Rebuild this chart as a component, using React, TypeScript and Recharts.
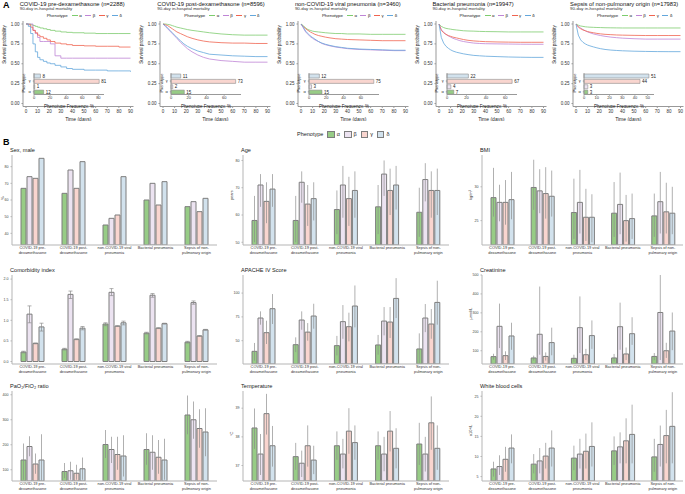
import React from "react";
import { LineChart, Line, XAxis, YAxis, BarChart, Bar, ErrorBar, LabelList, Cell } from "recharts";

const FONT = "'Liberation Sans', Arial, sans-serif";

// ---- panel A: cohorts, survival curves, phenotype frequencies ----
const COHORTS = [
  "COVID-19 pre-dexamethasone",
  "COVID-19 post-dexamethasone",
  "non-COVID-19 viral pneumonia",
  "Bacterial pneumonia",
  "Sepsis of non-pulmonary origin",
];
const COHORT_N = [2288, 8596, 3460, 19947, 17983];
const PHENO = ["α", "β", "γ", "δ"];
const DAYS = [0, 2, 4, 6, 8, 10, 12, 15, 18, 21, 25, 30, 35, 40, 50, 60, 70, 80, 90];

const PRE_A = [1, 1, 0.99, 0.98, 0.97, 0.96, 0.95, 0.94, 0.93, 0.92, 0.91, 0.9, 0.895, 0.89, 0.885, 0.88, 0.88, 0.88, 0.88];
const PRE_B = [1, 1, 1, 0.92, 0.88, 0.83, 0.78, 0.78, 0.78, 0.75, 0.6, 0.57, 0.57, 0.57, 0.57, 0.57, 0.57, 0.57, 0.57];
const PRE_G = [1, 0.99, 0.96, 0.92, 0.89, 0.86, 0.84, 0.82, 0.8, 0.78, 0.76, 0.75, 0.74, 0.73, 0.725, 0.72, 0.72, 0.71, 0.71];
const PRE_D = [1, 0.97, 0.88, 0.75, 0.65, 0.58, 0.55, 0.53, 0.51, 0.5, 0.48, 0.46, 0.44, 0.43, 0.42, 0.42, 0.41, 0.41, 0.4];

const POST_A = [1, 1, 0.995, 0.99, 0.98, 0.97, 0.96, 0.95, 0.94, 0.93, 0.92, 0.91, 0.9, 0.89, 0.875, 0.865, 0.86, 0.86, 0.86];
const POST_B = [1, 0.97, 0.94, 0.91, 0.88, 0.85, 0.82, 0.77, 0.73, 0.69, 0.65, 0.61, 0.58, 0.56, 0.54, 0.53, 0.52, 0.52, 0.52];
const POST_G = [1, 0.99, 0.98, 0.96, 0.94, 0.92, 0.9, 0.88, 0.86, 0.84, 0.82, 0.8, 0.785, 0.775, 0.765, 0.76, 0.76, 0.755, 0.755];
const POST_D = [1, 0.98, 0.95, 0.92, 0.89, 0.86, 0.83, 0.79, 0.75, 0.72, 0.69, 0.66, 0.64, 0.62, 0.61, 0.6, 0.595, 0.59, 0.59];

const VIR_A = [1, 0.98, 0.95, 0.93, 0.92, 0.91, 0.905, 0.9, 0.895, 0.89, 0.885, 0.88, 0.88, 0.875, 0.875, 0.87, 0.87, 0.87, 0.87];
const VIR_B = [1, 0.95, 0.9, 0.87, 0.84, 0.82, 0.8, 0.78, 0.755, 0.74, 0.725, 0.71, 0.7, 0.69, 0.68, 0.675, 0.67, 0.665, 0.665];
const VIR_G = [1, 0.97, 0.94, 0.92, 0.9, 0.885, 0.87, 0.855, 0.845, 0.835, 0.825, 0.815, 0.81, 0.805, 0.8, 0.795, 0.79, 0.79, 0.79];
const VIR_D = [1, 0.96, 0.91, 0.88, 0.85, 0.83, 0.81, 0.78, 0.76, 0.745, 0.73, 0.715, 0.705, 0.695, 0.685, 0.68, 0.675, 0.67, 0.67];

const BAC_A = [1, 0.97, 0.955, 0.945, 0.94, 0.935, 0.93, 0.925, 0.92, 0.915, 0.912, 0.91, 0.907, 0.905, 0.903, 0.9, 0.9, 0.9, 0.9];
const BAC_B = [1, 0.93, 0.895, 0.87, 0.85, 0.835, 0.82, 0.805, 0.79, 0.78, 0.77, 0.76, 0.755, 0.752, 0.75, 0.748, 0.746, 0.745, 0.745];
const BAC_G = [1, 0.92, 0.89, 0.87, 0.855, 0.845, 0.835, 0.825, 0.815, 0.805, 0.795, 0.787, 0.782, 0.778, 0.774, 0.772, 0.77, 0.77, 0.77];
const BAC_D = [1, 0.83, 0.76, 0.72, 0.695, 0.675, 0.66, 0.645, 0.635, 0.625, 0.615, 0.605, 0.6, 0.595, 0.59, 0.585, 0.582, 0.58, 0.58];

const SEP_A = [1, 0.985, 0.975, 0.97, 0.965, 0.962, 0.96, 0.958, 0.956, 0.955, 0.953, 0.952, 0.951, 0.95, 0.95, 0.95, 0.95, 0.95, 0.95];
const SEP_B = [1, 0.97, 0.95, 0.93, 0.915, 0.9, 0.89, 0.875, 0.865, 0.855, 0.845, 0.835, 0.828, 0.822, 0.815, 0.81, 0.81, 0.81, 0.81];
const SEP_G = [1, 0.96, 0.94, 0.925, 0.915, 0.905, 0.898, 0.89, 0.882, 0.876, 0.87, 0.866, 0.862, 0.86, 0.857, 0.855, 0.855, 0.855, 0.855];
const SEP_D = [1, 0.86, 0.8, 0.77, 0.75, 0.735, 0.725, 0.712, 0.7, 0.69, 0.68, 0.672, 0.667, 0.663, 0.658, 0.655, 0.653, 0.652, 0.652];

const KM_SERIES = [
  [PRE_A, PRE_B, PRE_G, PRE_D],
  [POST_A, POST_B, POST_G, POST_D],
  [VIR_A, VIR_B, VIR_G, VIR_D],
  [BAC_A, BAC_B, BAC_G, BAC_D],
  [SEP_A, SEP_B, SEP_G, SEP_D],
];

// phenotype frequency, % (α, β, γ, δ)
const FREQ_PRE = [12, 1, 81, 8];
const FREQ_POST = [15, 2, 73, 11];
const FREQ_VIR = [15, 3, 75, 12];
const FREQ_BAC = [7, 4, 67, 22];
const FREQ_SEP = [3, 3, 44, 51];
const FREQS = [FREQ_PRE, FREQ_POST, FREQ_VIR, FREQ_BAC, FREQ_SEP];
const FREQ_MAX = [87, 79, 81, 72, 55];
const FREQ_TICKS = [[0, 20, 40, 60, 80], [0, 20, 40, 60], [0, 20, 40, 60], [0, 20, 40, 60], [0, 10, 20, 30, 40, 50]];

const KM_X_TICKS = [0, 10, 20, 30, 40, 50, 60, 70, 80, 90];
const KM_Y_TICKS = [0, 0.25, 0.5, 0.75, 1];

// ---- panel B: characteristics by cohort ----
const CATEGORIES = [
  "COVID-19 pre-\ndexamethasone",
  "COVID-19 post-\ndexamethasone",
  "non-COVID-19 viral\npneumonia",
  "Bacterial pneumonia",
  "Sepsis of non-\npulmonary origin",
];

const SEX_A = [67, 64, 45, 60, 56];
const SEX_B = [74, 78, 49, 70, 59];
const SEX_G = [73, 67, 51, 57, 53];
const SEX_D = [85, 83, 74, 71, 61];

const AGE_A = [58, 58, 62, 63, 61];
const AGE_B = [71, 72, 71, 75, 73];
const AGE_G = [65, 64, 66, 69, 69];
const AGE_D = [69.5, 66, 69, 71, 69];
const AGE_A_LO = [50, 50, 53, 53, 52], AGE_A_HI = [67, 67, 69, 71, 70];
const AGE_B_LO = [63, 64.5, 59, 67, 65], AGE_B_HI = [75, 76, 78, 80, 79];
const AGE_G_LO = [57, 56, 56, 60, 59], AGE_G_HI = [72, 71, 74, 77, 76];
const AGE_D_LO = [63, 58, 59, 62, 60], AGE_D_HI = [75, 72, 76, 78, 77];

const BMI_A = [28.4, 29.9, 26.2, 26.1, 25.7];
const BMI_B = [27.7, 29.4, 27.7, 27.4, 27.8];
const BMI_G = [27.7, 29, 25.5, 25, 26.3];
const BMI_D = [28.1, 28.6, 25.5, 25.3, 26.1];
const BMI_A_LO = [25.6, 26.6, 22.3, 22.6, 22.6], BMI_A_HI = [32.8, 34, 31.2, 30.7, 29];
const BMI_B_LO = [24.9, 26.1, 23.1, 23, 23.1], BMI_B_HI = [30.3, 32.6, 32.5, 32.1, 32.2];
const BMI_G_LO = [24.4, 25.3, 22, 21.9, 23.1], BMI_G_HI = [31, 32.9, 29.7, 28.8, 30.6];
const BMI_D_LO = [25.2, 25.6, 21.8, 22.3, 23], BMI_D_HI = [32.2, 32.4, 28.9, 29, 30];

const CMI_A = [0.23, 0.3, 0.91, 0.69, 0.47];
const CMI_B = [1.15, 1.63, 1.68, 1.61, 1.43];
const CMI_G = [0.44, 0.54, 0.86, 0.81, 0.62];
const CMI_D = [0.84, 0.81, 0.94, 0.92, 0.77];
const CMI_A_LO = [0.21, 0.28, 0.87, 0.67, 0.45], CMI_A_HI = [0.25, 0.32, 0.94, 0.71, 0.49];
const CMI_B_LO = [0.94, 1.53, 1.6, 1.56, 1.39], CMI_B_HI = [1.35, 1.71, 1.77, 1.65, 1.47];
const CMI_G_LO = [0.43, 0.53, 0.85, 0.8, 0.61], CMI_G_HI = [0.45, 0.55, 0.87, 0.82, 0.63];
const CMI_D_LO = [0.74, 0.77, 0.89, 0.91, 0.76], CMI_D_HI = [0.93, 0.85, 0.98, 0.93, 0.78];

const APA_A = [38.8, 45.8, 44.8, 45.5, 41.3];
const APA_B = [73.8, 71.7, 70, 70.6, 73.8];
const APA_G = [58.4, 59, 64.7, 69.6, 67.5];
const APA_D = [83.6, 75.9, 86.4, 94.4, 90.2];
const APA_A_LO = [29, 38, 34.6, 35.3, 26.6], APA_A_HI = [47.6, 53.5, 55, 56, 57.7];
const APA_B_LO = [66.8, 61.5, 52, 55.6, 59], APA_B_HI = [80.8, 80.8, 87.4, 85.3, 88.5];
const APA_G_LO = [46.5, 50, 49.3, 52.8, 52], APA_G_HI = [71, 68.5, 79.4, 85.3, 83.2];
const APA_D_LO = [67.5, 62.6, 64, 73.8, 66.8], APA_D_HI = [99, 88.8, 108, 115.7, 113];

const CRE_A = [69, 62, 60, 62, 70];
const CRE_B = [229, 187, 222, 227, 302];
const CRE_G = [74, 70, 79, 83, 100];
const CRE_D = [178, 143, 180, 190, 204];
const CRE_A_LO = [53, 48, 41, 43, 50], CRE_A_HI = [84, 74, 79, 83, 88];
const CRE_B_LO = [114, 79, 88, 105, 51], CRE_B_HI = [349, 439, 387, 354, 500];
const CRE_G_LO = [51, 48, 51, 51, 62], CRE_G_HI = [97, 91, 110, 117, 142];
const CRE_D_LO = [105, 76, 110, 131, 103], CRE_D_HI = [248, 222, 260, 277, 302];

const PF_A = [139, 93, 201, 181, 319];
const PF_B = [193, 96, 181, 170, 300];
const PF_G = [123, 86, 161, 150, 265];
const PF_D = [139, 104, 155, 139, 251];
const PF_A_LO = [60, 66, 147, 120, 242], PF_A_HI = [205, 127, 259, 246, 397];
const PF_B_LO = [154, 60, 127, 100, 224], PF_B_HI = [234, 132, 232, 238, 373];
const PF_G_LO = [84, 60, 100, 84, 188], PF_G_HI = [165, 120, 232, 219, 342];
const PF_D_LO = [56, 60, 73, 60, 154], PF_D_HI = [242, 149, 238, 224, 346];

const TMP_A = [38.31, 37.31, 37.69, 37.69, 37.75];
const TMP_B = [37.4, 37.08, 37.4, 37.4, 37.4];
const TMP_G = [38.81, 37.69, 38.2, 38.2, 38.49];
const TMP_D = [37.69, 37.19, 37.8, 37.6, 37.6];
const TMP_A_LO = [37.58, 36.85, 37.2, 37.2, 37.02], TMP_A_HI = [38.99, 37.79, 38.19, 38.19, 38.49];
const TMP_B_LO = [36.67, 36.6, 36.9, 36.8, 36.79], TMP_B_HI = [38.1, 37.52, 37.93, 38, 38];
const TMP_G_LO = [38.08, 36.96, 37.41, 37.49, 37.55], TMP_G_HI = [39.5, 38.4, 39, 38.9, 39.41];
const TMP_D_LO = [36.96, 36.7, 37.2, 36.9, 36.85], TMP_D_HI = [38.38, 37.69, 38.4, 38.3, 38.4];

const WBC_A = [6.9, 8.1, 9.6, 11.4, 9.9];
const WBC_B = [7.5, 8.9, 10.6, 12.4, 13];
const WBC_G = [9.3, 10.1, 11.3, 13.9, 15.2];
const WBC_D = [12.1, 12.1, 12.5, 15.5, 17.5];
const WBC_A_LO = [5, 5.8, 6.6, 7.9, 6.2], WBC_A_HI = [8.7, 10.6, 12.7, 15, 14.4];
const WBC_B_LO = [5.4, 5.8, 7, 8.3, 7.5], WBC_B_HI = [10.3, 12.1, 14.4, 16, 17.7];
const WBC_G_LO = [6.2, 7, 7, 8.3, 8.3], WBC_G_HI = [12.4, 13.4, 15.7, 19.5, 21.6];
const WBC_D_LO = [8.3, 7.5, 7.5, 8.3, 8.3], WBC_D_HI = [15.5, 16.5, 18.5, 22.9, 26];

// ---- styling ----
const LINE_COLORS = ["#7dcc6e", "#bf85d6", "#f06450", "#63a7dc"];
const FILLS = ["#97cc86", "#ece3f1", "#f9d5cf", "#d2e2ed"];
const KEYS = ["a", "b", "g", "d"];
const AXIS_X = [12, 243, 482];
const AXIS_W = [12, 14, 14];
const PLOT_R = [217, 449, 683];
const PLOT_TOP = [155, 275, 391];
const PLOT_BOT = [245, 364, 481];
const KM_X0 = 25.7;
const KM_STEP = 137.6;

function buildRows(vals: number[][], lo?: number[][], hi?: number[][]) {
  return CATEGORIES.map((cat, k) => {
    const r: any = { cat };
    KEYS.forEach((key, p) => {
      r[key] = vals[p][k];
      if (lo && hi) r[key + "E"] = [vals[p][k] - lo[p][k], hi[p][k] - vals[p][k]];
    });
    return r;
  });
}

function CatTick(props: any) {
  const { x, y, payload } = props;
  const lines = String(payload.value).split("\n");
  return (
    <text x={x} y={y + 4.2} textAnchor="middle" fontSize={3.9} fill="#333" fontFamily={FONT}>
      {lines.map((l, i) => (
        <tspan key={i} x={x} dy={i === 0 ? 0 : 4.6}>
          {l}
        </tspan>
      ))}
    </text>
  );
}

function BarPanel(props: any) {
  const { col, row, title, unit, domain, ticks, fmt, vals, lo, hi, cap = 0 } = props;
  const axisX = AXIS_X[col];
  const top = PLOT_TOP[row];
  const bottom = PLOT_BOT[row];
  const yW = AXIS_W[col];
  const xH = 13;
  const mt = 2;
  const data = buildRows(vals, lo, hi);
  return (
    <>
      <div style={{ position: "absolute", left: axisX - 2, top: top - 8.5, fontSize: 5.6, color: "#222", whiteSpace: "nowrap" }}>
        {title}
      </div>
      <div style={{ position: "absolute", left: axisX - yW, top: top - mt }}>
        <BarChart
          width={PLOT_R[col] - axisX + yW}
          height={mt + bottom - top + xH}
          data={data}
          margin={{ top: mt, right: 0, bottom: 0, left: 0 }}
          barSize={5}
          barGap={1}
        >
          <XAxis dataKey="cat" height={xH} interval={0} tickLine={false} tickSize={0} tickMargin={0}
            axisLine={{ stroke: "#b5b5b5" }} tick={<CatTick />} />
          <YAxis
            width={yW}
            type="number"
            domain={domain}
            ticks={ticks}
            allowDataOverflow
            tickFormatter={fmt}
            tick={{ fontSize: 3.6, fill: "#444" }}
            tickSize={1.5}
            stroke="#b5b5b5"
            label={unit ? { value: unit, angle: -90, position: "insideLeft", offset: 3, fontSize: 4, fill: "#333" } : undefined}
          />
          {KEYS.map((k, p) => (
            <Bar key={k} dataKey={k} fill={FILLS[p]} stroke="#7d7d7d" strokeWidth={1} isAnimationActive={false}>
              {lo ? <ErrorBar dataKey={k + "E"} width={cap} stroke="#8a8a8a" strokeOpacity={0.85} strokeWidth={0.8} /> : null}
            </Bar>
          ))}
        </BarChart>
      </div>
    </>
  );
}

function KmLegend({ left }: { left: number }) {
  return (
    <div style={{ position: "absolute", left, top: 12.6, fontSize: 4.4, color: "#222", display: "flex", alignItems: "center", whiteSpace: "nowrap" }}>
      <span style={{ marginRight: 4 }}>Phenotype</span>
      {PHENO.map((p, i) => (
        <span key={p} style={{ display: "flex", alignItems: "center", marginRight: 3.5 }}>
          <span style={{ display: "inline-block", width: 6, height: 0, borderTop: `0.8px solid ${LINE_COLORS[i]}`, marginRight: 1.5 }} />
          {p}
        </span>
      ))}
    </div>
  );
}

function KmPanel({ idx }: { idx: number }) {
  const x0 = KM_X0 + KM_STEP * idx;
  const s = KM_SERIES[idx];
  const rows = DAYS.map((day, k) => ({ day, a: s[0][k], b: s[1][k], g: s[2][k], d: s[3][k] }));
  const freq = FREQS[idx];
  const inRows = [3, 2, 1, 0].map((p) => ({ ph: PHENO[p], v: freq[p], fill: FILLS[p] }));
  return (
    <>
      <div style={{ position: "absolute", left: x0 - 6, top: 0.8, fontSize: 5.8, color: "#111", whiteSpace: "nowrap" }}>
        {COHORTS[idx]} (n={COHORT_N[idx]})
      </div>
      <div style={{ position: "absolute", left: x0 - 6, top: 6.3, fontSize: 4.4, color: "#333", whiteSpace: "nowrap" }}>
        90-day in-hospital mortality
      </div>
      <KmLegend left={x0 + 21} />
      <div style={{ position: "absolute", left: x0 - 25, top: 20 }}>
        <LineChart width={134.5} height={100.5} data={rows} margin={{ top: 1, right: 2, bottom: 0, left: 0 }}>
          <XAxis
            dataKey="day"
            type="number"
            domain={[0, 90]}
            ticks={KM_X_TICKS}
            padding={{ left: 3, right: 3 }}
            height={14}
            tick={{ fontSize: 4.5, fill: "#333" }}
            tickSize={1.5}
            stroke="#999"
            label={{ value: "Time (days)", position: "insideBottom", offset: 0, fontSize: 5, fill: "#222" }}
          />
          <YAxis
            type="number"
            domain={[0, 1]}
            ticks={KM_Y_TICKS}
            padding={{ top: 3, bottom: 3 }}
            width={22}
            tickFormatter={(v: number) => v.toFixed(2)}
            tick={{ fontSize: 4.5, fill: "#333" }}
            tickSize={1.5}
            stroke="#999"
            label={{ value: "Survival probability", angle: -90, position: "insideLeft", offset: 3, fontSize: 4.6, fill: "#222" }}
          />
          {KEYS.map((k, p) => (
            <Line
              key={k}
              dataKey={k}
              type={idx === 0 ? "stepAfter" : "linear"}
              stroke={LINE_COLORS[p]}
              strokeWidth={0.8}
              dot={false}
              isAnimationActive={false}
            />
          ))}
        </LineChart>
      </div>
      <div style={{ position: "absolute", left: x0 + 8 - 13, top: 71.5 }}>
        <BarChart layout="vertical" width={95} height={36} data={inRows} margin={{ top: 1, right: 12, bottom: 0, left: 0 }} barSize={4}>
          <XAxis
            type="number"
            domain={[0, FREQ_MAX[idx]]}
            ticks={FREQ_TICKS[idx]}
            height={13.5}
            tick={{ fontSize: 4, fill: "#333" }}
            tickSize={1.2}
            tickMargin={0.5}
            stroke="#999"
            label={{ value: "Phenotype Frequency, %", position: "insideBottom", offset: 0.5, fontSize: 4.5, fill: "#222" }}
          />
          <YAxis type="category" dataKey="ph" width={13} tick={{ fontSize: 4, fill: "#333" }} tickSize={1.2} stroke="#999" />
          <Bar dataKey="v" stroke="#8d8d8d" strokeWidth={0.6} isAnimationActive={false}>
            {inRows.map((r) => (
              <Cell key={r.ph} fill={r.fill} />
            ))}
            <LabelList dataKey="v" position="right" offset={2} fontSize={4.5} fill="#222" />
          </Bar>
        </BarChart>
      </div>
      <div
        style={{
          position: "absolute", left: x0 - 4, top: 72.5, width: 4, height: 21.5,
          display: "flex", alignItems: "center", justifyContent: "center", overflow: "visible",
        }}
      >
        <span style={{ transform: "rotate(-90deg)", fontSize: 4, color: "#222", whiteSpace: "nowrap", lineHeight: 1 }}>Phenotype</span>
      </div>
    </>
  );
}

function BottomLegend() {
  return (
    <div style={{ position: "absolute", left: 297, top: 131, fontSize: 5.5, color: "#222", display: "flex", alignItems: "center", whiteSpace: "nowrap" }}>
      <span style={{ marginRight: 4 }}>Phenotype</span>
      {PHENO.map((p, i) => (
        <span key={p} style={{ display: "flex", alignItems: "center", marginRight: 4 }}>
          <span style={{ display: "inline-block", width: 5.5, height: 4.5, background: FILLS[i], border: "0.8px solid #7d7d7d", marginRight: 2 }} />
          {p}
        </span>
      ))}
    </div>
  );
}

const int = (v: number) => String(v);
const one = (v: number) => v.toFixed(1);

export default function App() {
  return (
    <div style={{ position: "absolute", left: 0, top: 0, width: 685, height: 494, background: "#fff", fontFamily: FONT, overflow: "hidden" }}>
      <div style={{ position: "absolute", left: 3, top: 0, fontSize: 9, fontWeight: "bold" }}>A</div>
      <div style={{ position: "absolute", left: 3, top: 137, fontSize: 9, fontWeight: "bold" }}>B</div>
      {[0, 1, 2, 3, 4].map((i) => (
        <KmPanel key={i} idx={i} />
      ))}
      <BottomLegend />

      <BarPanel col={0} row={0} title="Sex, male" unit="%" domain={[33, 87]} ticks={[40, 50, 60, 70, 80]} fmt={int}
        vals={[SEX_A, SEX_B, SEX_G, SEX_D]} />
      <BarPanel col={1} row={0} title="Age" unit="years" domain={[49, 82]} ticks={[50, 60, 70, 80]} fmt={int}
        vals={[AGE_A, AGE_B, AGE_G, AGE_D]} lo={[AGE_A_LO, AGE_B_LO, AGE_G_LO, AGE_D_LO]} hi={[AGE_A_HI, AGE_B_HI, AGE_G_HI, AGE_D_HI]} />
      <BarPanel col={2} row={0} title="BMI" unit="kg/m²" domain={[21.4, 34.7]} ticks={[25, 30]} fmt={int}
        vals={[BMI_A, BMI_B, BMI_G, BMI_D]} lo={[BMI_A_LO, BMI_B_LO, BMI_G_LO, BMI_D_LO]} hi={[BMI_A_HI, BMI_B_HI, BMI_G_HI, BMI_D_HI]} />

      <BarPanel col={0} row={1} title="Comorbidity index" domain={[-0.06, 2.1]} ticks={[0, 0.5, 1, 1.5, 2]} fmt={one} cap={2}
        vals={[CMI_A, CMI_B, CMI_G, CMI_D]} lo={[CMI_A_LO, CMI_B_LO, CMI_G_LO, CMI_D_LO]} hi={[CMI_A_HI, CMI_B_HI, CMI_G_HI, CMI_D_HI]} />
      <BarPanel col={1} row={1} title="APACHE IV Score" domain={[25.5, 119]} ticks={[50, 75, 100]} fmt={int}
        vals={[APA_A, APA_B, APA_G, APA_D]} lo={[APA_A_LO, APA_B_LO, APA_G_LO, APA_D_LO]} hi={[APA_A_HI, APA_B_HI, APA_G_HI, APA_D_HI]} />
      <BarPanel col={2} row={1} title="Creatinine" unit="μmol/L" domain={[30, 500]} ticks={[100, 200, 300, 400, 500]} fmt={int}
        vals={[CRE_A, CRE_B, CRE_G, CRE_D]} lo={[CRE_A_LO, CRE_B_LO, CRE_G_LO, CRE_D_LO]} hi={[CRE_A_HI, CRE_B_HI, CRE_G_HI, CRE_D_HI]} />

      <BarPanel col={0} row={2} title="PaO₂/FiO₂ ratio" domain={[55, 415]} ticks={[100, 200, 300, 400]} fmt={int}
        vals={[PF_A, PF_B, PF_G, PF_D]} lo={[PF_A_LO, PF_B_LO, PF_G_LO, PF_D_LO]} hi={[PF_A_HI, PF_B_HI, PF_G_HI, PF_D_HI]} />
      <BarPanel col={1} row={2} title="Temperature" unit="°C" domain={[36.46, 39.6]} ticks={[37, 38, 39]} fmt={int}
        vals={[TMP_A, TMP_B, TMP_G, TMP_D]} lo={[TMP_A_LO, TMP_B_LO, TMP_G_LO, TMP_D_LO]} hi={[TMP_A_HI, TMP_B_HI, TMP_G_HI, TMP_D_HI]} />
      <BarPanel col={2} row={2} title="White blood cells" unit="x10⁹/L" domain={[3.9, 26.3]} ticks={[5, 10, 15, 20, 25]} fmt={int}
        vals={[WBC_A, WBC_B, WBC_G, WBC_D]} lo={[WBC_A_LO, WBC_B_LO, WBC_G_LO, WBC_D_LO]} hi={[WBC_A_HI, WBC_B_HI, WBC_G_HI, WBC_D_HI]} />
    </div>
  );
}
